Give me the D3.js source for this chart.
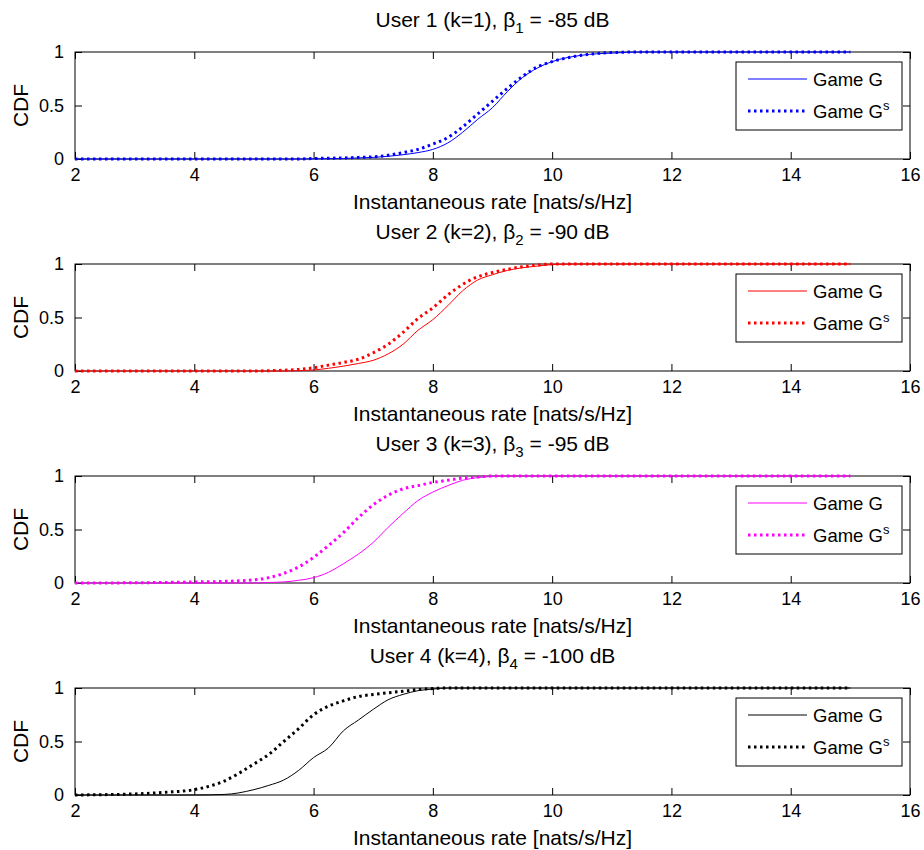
<!DOCTYPE html>
<html>
<head>
<meta charset="utf-8">
<script src="https://cdn.jsdelivr.net/npm/d3@7"></script>
<style>
  body { margin: 0; background: #fff; }
  svg { font-family: Arial, "Liberation Sans", sans-serif; }
</style>
</head>
<body>
<script>
// shared sample grid for every curve (instantaneous rate, nats/s/Hz)
const rateGrid = [2, 3, 3.5, 4, 4.5, 5, 5.25, 5.5, 5.75, 6, 6.25, 6.5, 6.75, 7, 7.25, 7.5, 7.75, 8,
                  8.25, 8.5, 8.75, 9, 9.25, 9.5, 9.75, 10, 10.5, 11, 11.5, 12, 15];

// CDF values, one array per user / game
const user1G  = [0, 0, 0, 0, 0, 0, 0, 0, 0, 0.002, 0.003, 0.005, 0.01, 0.015, 0.025, 0.04, 0.06, 0.09,
                 0.15, 0.25, 0.37, 0.48, 0.63, 0.76, 0.85, 0.91, 0.97, 0.99, 1, 1, 1];
const user1Gs = [0, 0, 0, 0, 0, 0, 0, 0, 0, 0.005, 0.007, 0.01, 0.015, 0.02, 0.035, 0.06, 0.09, 0.14,
                 0.2, 0.3, 0.42, 0.54, 0.66, 0.77, 0.86, 0.91, 0.97, 0.995, 1, 1, 1];
const user2G  = [0, 0, 0, 0, 0, 0, 0, 0, 0.003, 0.01, 0.025, 0.045, 0.07, 0.1, 0.16, 0.25, 0.38, 0.48,
                 0.61, 0.75, 0.85, 0.9, 0.94, 0.965, 0.98, 0.995, 1, 1, 1, 1, 1];
const user2Gs = [0, 0, 0, 0, 0, 0, 0.003, 0.007, 0.015, 0.03, 0.055, 0.08, 0.11, 0.17, 0.25, 0.36, 0.49, 0.59,
                 0.71, 0.81, 0.88, 0.92, 0.95, 0.975, 0.99, 1, 1, 1, 1, 1, 1];
const user3G  = [0, 0, 0, 0, 0, 0, 0.005, 0.01, 0.025, 0.05, 0.1, 0.18, 0.27, 0.38, 0.52, 0.65, 0.77, 0.85,
                 0.91, 0.96, 0.985, 0.995, 1, 1, 1, 1, 1, 1, 1, 1, 1];
const user3Gs = [0, 0.002, 0.005, 0.01, 0.015, 0.03, 0.05, 0.09, 0.15, 0.24, 0.35, 0.47, 0.61, 0.73, 0.82, 0.88, 0.91, 0.94,
                 0.96, 0.98, 0.99, 1, 1, 1, 1, 1, 1, 1, 1, 1, 1];
const user4G  = [0, 0, 0, 0, 0.005, 0.05, 0.09, 0.14, 0.23, 0.35, 0.44, 0.6, 0.7, 0.8, 0.89, 0.94, 0.975, 0.99,
                 1, 1, 1, 1, 1, 1, 1, 1, 1, 1, 1, 1, 1];
const user4Gs = [0, 0.01, 0.025, 0.05, 0.13, 0.29, 0.38, 0.5, 0.62, 0.75, 0.83, 0.88, 0.92, 0.94, 0.955, 0.97, 0.985, 0.995,
                 1, 1, 1, 1, 1, 1, 1, 1, 1, 1, 1, 1, 1];

const userIds   = [1, 2, 3, 4];
const betaDb    = [-85, -90, -95, -100];
const gameG     = [user1G, user2G, user3G, user4G];
const gameGs    = [user1Gs, user2Gs, user3Gs, user4Gs];
const lineColor = ["#0000ff", "#ff0000", "#ff00ff", "#000000"];

const xTicks = [2, 4, 6, 8, 10, 12, 14, 16];
const yTicks = [0, 0.5, 1];

const w = 924, h = 850;
const left = 75, right = 910;
const panelTop = 52, panelH = 107, panelStep = 212;

const svg = d3.select("body").append("svg")
  .attr("width", w).attr("height", h);

const x = d3.scaleLinear().domain([2, 16]).range([left, right]);

userIds.forEach((id, i) => {
  const top = panelTop + i * panelStep;
  const y = d3.scaleLinear().domain([0, 1]).range([top + panelH, top]);
  const g = svg.append("g");

  // axes box with inward ticks on all four sides
  g.append("g").attr("transform", `translate(0,${top + panelH})`)
    .call(d3.axisBottom(x).tickValues(xTicks).tickSizeInner(-7).tickSizeOuter(0).tickPadding(9))
    .call(a => a.select(".domain").remove())
    .call(a => a.selectAll("text").attr("font-size", 18).attr("fill", "#000").attr("font-family", null));
  g.append("g").attr("transform", `translate(0,${top})`)
    .call(d3.axisTop(x).tickValues(xTicks).tickSizeInner(-7).tickSizeOuter(0).tickFormat(""))
    .call(a => a.select(".domain").remove());
  g.append("g").attr("transform", `translate(${left},0)`)
    .call(d3.axisLeft(y).tickValues(yTicks).tickSizeInner(-7).tickSizeOuter(0).tickPadding(11).tickFormat(d3.format("")))
    .call(a => a.select(".domain").remove())
    .call(a => a.selectAll("text").attr("font-size", 18).attr("fill", "#000").attr("font-family", null));
  g.append("g").attr("transform", `translate(${right},0)`)
    .call(d3.axisRight(y).tickValues(yTicks).tickSizeInner(-7).tickSizeOuter(0).tickFormat(""))
    .call(a => a.select(".domain").remove());
  g.append("rect")
    .attr("x", left).attr("y", top).attr("width", right - left).attr("height", panelH)
    .attr("fill", "none").attr("stroke", "#000").attr("stroke-width", 1);

  // curves
  const line = d3.line().x((d, k) => x(rateGrid[k])).y(d => y(d)).curve(d3.curveMonotoneX);
  g.append("path").datum(gameG[i])
    .attr("d", line).attr("fill", "none")
    .attr("stroke", lineColor[i]).attr("stroke-width", 1);
  g.append("path").datum(gameGs[i])
    .attr("d", line).attr("fill", "none")
    .attr("stroke", lineColor[i]).attr("stroke-width", 3)
    .attr("stroke-dasharray", "2.5,3.5");

  // title
  const t = g.append("text")
    .attr("x", (left + right) / 2).attr("y", top - 25)
    .attr("text-anchor", "middle").attr("font-size", 21);
  t.append("tspan").text(`User ${id} (k=${id}), \u03B2`);
  t.append("tspan").attr("font-size", 15).attr("dy", 6).text(id);
  t.append("tspan").attr("dy", -6).text(` = ${betaDb[i]} dB`);

  // axis labels
  g.append("text")
    .attr("x", (left + right) / 2).attr("y", top + panelH + 50)
    .attr("text-anchor", "middle").attr("font-size", 21)
    .text("Instantaneous rate [nats/s/Hz]");
  g.append("text")
    .attr("transform", `translate(28,${top + panelH / 2}) rotate(-90)`)
    .attr("text-anchor", "middle").attr("font-size", 21)
    .text("CDF");

  // legend
  const lg = g.append("g").attr("transform", `translate(736,${top + 10})`);
  lg.append("rect").attr("width", 166).attr("height", 68)
    .attr("fill", "#fff").attr("stroke", "#000").attr("stroke-width", 1);
  lg.append("line").attr("x1", 12).attr("x2", 71).attr("y1", 17).attr("y2", 17)
    .attr("stroke", lineColor[i]).attr("stroke-width", 1);
  lg.append("line").attr("x1", 12).attr("x2", 71).attr("y1", 49).attr("y2", 49)
    .attr("stroke", lineColor[i]).attr("stroke-width", 3).attr("stroke-dasharray", "2.5,3.5");
  lg.append("text").attr("x", 77).attr("y", 24).attr("font-size", 18.5).text("Game G");
  const lt = lg.append("text").attr("x", 77).attr("y", 56).attr("font-size", 18.5);
  lt.append("tspan").text("Game G");
  lt.append("tspan").attr("font-size", 13).attr("dy", -8).text("s");
});
</script>
</body>
</html>
